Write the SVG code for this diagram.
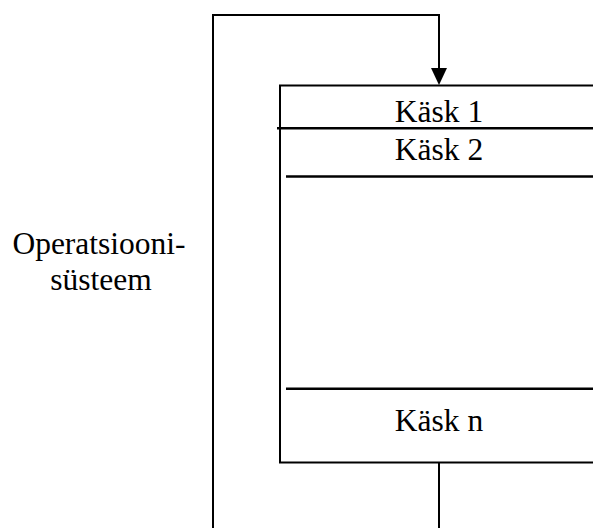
<svg xmlns="http://www.w3.org/2000/svg" width="593" height="528" viewBox="0 0 593 528">
  <style>
    .ln { fill: none; stroke: #000; stroke-width: 2; }
    .sep { fill: none; stroke: #000; stroke-width: 2.5; }
    .lbl { font-family: "Liberation Serif", "Times New Roman", serif; font-size: 31.5px; fill: #000; text-anchor: middle; }
  </style>
  <rect width="593" height="528" fill="#fff"/>

  <!-- connectors: OS loop feeding the task queue -->
  <g id="connectors">
    <path class="ln" d="M439,528 L439,463"/>
    <path class="ln" d="M213,528 L213,15 L439,15 L439,68"/>
    <path d="M431,68 L447,68 L439,85 Z" fill="#000"/>
  </g>

  <!-- task queue box, right side runs off the page -->
  <g id="queue">
    <path class="ln" d="M600,85.5 L280,85.5 L280,462.5 L600,462.5"/>
  </g>

  <g id="task1">
    <text class="lbl" x="439" y="122">Käsk 1</text>
    <line class="sep" x1="277" y1="128.3" x2="600" y2="128.3"/>
  </g>

  <g id="task2">
    <text class="lbl" x="439" y="160">Käsk 2</text>
    <line class="sep" x1="286" y1="176.5" x2="600" y2="176.5"/>
  </g>

  <g id="taskn">
    <line class="sep" x1="286" y1="388.8" x2="600" y2="388.8"/>
    <text class="lbl" x="439" y="431">Käsk n</text>
  </g>

  <g id="os">
    <text class="lbl" x="99" y="254">Operatsiooni-</text>
    <text class="lbl" x="101" y="290">süsteem</text>
  </g>
</svg>
